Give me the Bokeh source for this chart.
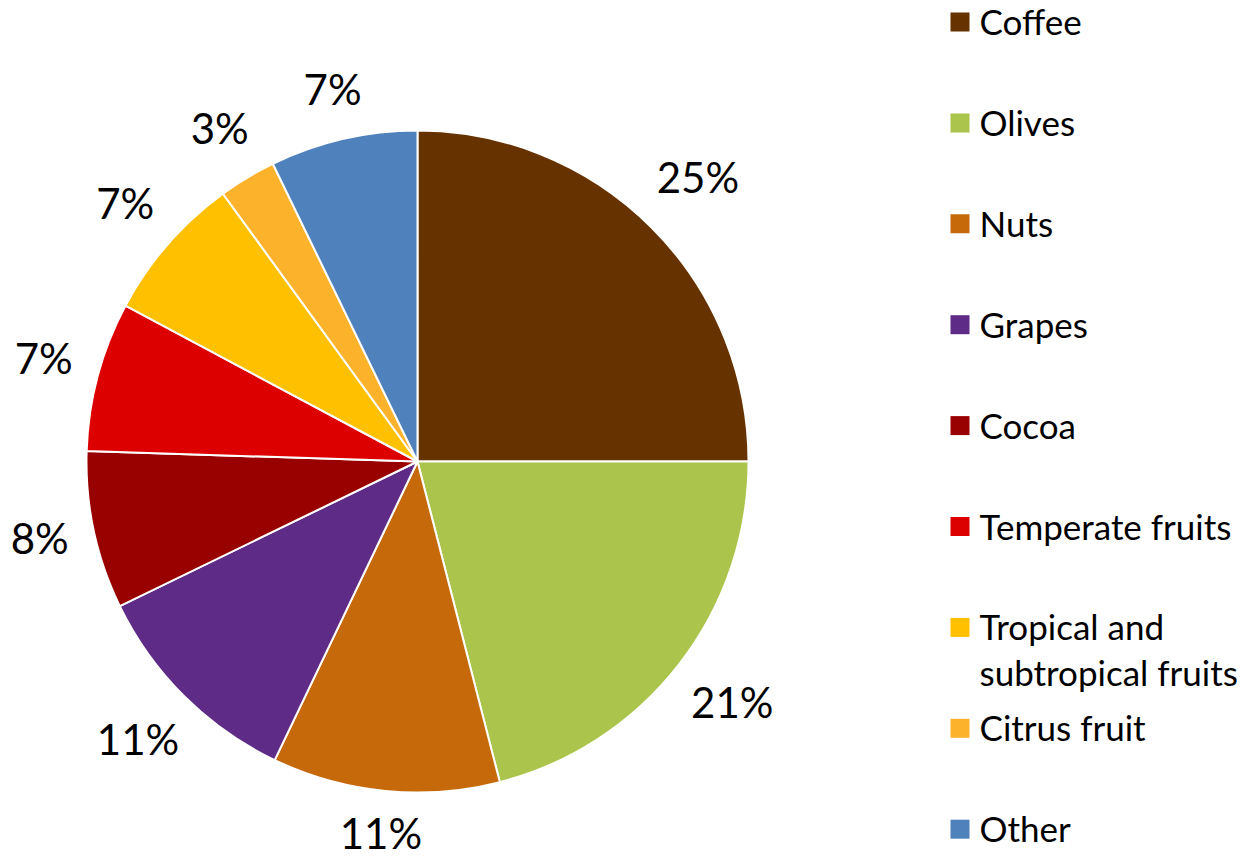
import math
import textwrap
from bokeh.plotting import figure
from bokeh.models import Range1d, ColumnDataSource
from bokeh.core.properties import value
from bokeh.embed import file_html
from bokeh.resources import INLINE

# ---- data ----
categories = ["Coffee", "Olives", "Nuts", "Grapes", "Cocoa", "Temperate fruits",
              "Tropical and subtropical fruits", "Citrus fruit", "Other"]
shares = [25.0, 21.0, 11.1, 10.7, 7.7, 7.3, 7.2, 2.8, 7.2]
colors = ["#663300", "#ABC44B", "#C5690A", "#5E2B86", "#990000", "#DD0000",
          "#FFC000", "#FDB22B", "#4F81BD"]

# ---- layout (page pixel coords; data y = H - page_y) ----
W, H = 1244, 857
FONT = "Lato"
cx, cy_page, R = 417, 461, 331
cy = H - cy_page

p = figure(width=W, height=H, output_backend="svg", toolbar_location=None,
           x_range=Range1d(0, W), y_range=Range1d(0, H),
           min_border=0, min_border_left=0, min_border_right=0,
           min_border_top=0, min_border_bottom=0)
p.axis.visible = False
p.grid.visible = False
p.outline_line_color = None
p.background_fill_color = "white"
p.border_fill_color = "white"

total = sum(shares)
starts, ends, mids = [], [], []
c = 0.0
for s in shares:
    f0 = c / total
    c += s
    f1 = c / total
    starts.append(math.pi / 2 - 2 * math.pi * f0)
    ends.append(math.pi / 2 - 2 * math.pi * f1)
    mids.append(2 * math.pi * (f0 + f1) / 2)  # clockwise from top

src = ColumnDataSource(dict(start=starts, end=ends, color=colors))
p.wedge(x=cx, y=cy, radius=R, start_angle="start", end_angle="end",
        direction="clock", fill_color="color", line_color="white",
        line_width=2, source=src)

# ---- percentage labels ----
lab_txt = [f"{round(s / total * 100)}%" for s in shares]
lx, ly = [], []
gap, half_h, lift = 26, 16, 4
for t, th in zip(lab_txt, mids):
    sx, sy = math.sin(th), math.cos(th)
    half_w = 13.3 * len(t)
    d = R + gap + abs(sx) * half_w + abs(sy) * half_h
    lx.append(cx + d * sx)
    ly.append(cy + d * sy + lift)
p.text(x=lx, y=ly, text=lab_txt, text_align="center", text_baseline="middle",
       text_font=value(FONT), text_font_size="42px", text_color="black")

# ---- legend ----
leg_x_sq, leg_x_txt = 959.5, 979
leg_y0, leg_dy, line_dy = 21.5, 100.9, 46
sq_x, sq_y, tx, ty, tt = [], [], [], [], []
for i, name in enumerate(categories):
    yc = leg_y0 + i * leg_dy
    sq_x.append(leg_x_sq)
    sq_y.append(H - yc)
    for k, line in enumerate(textwrap.wrap(name, 18)):
        tx.append(leg_x_txt)
        ty.append(H - (yc + k * line_dy) + 1)
        tt.append(line)
p.scatter(x=sq_x, y=sq_y, marker="square", size=19, fill_color=colors,
          line_color=None)
p.text(x=tx, y=ty, text=tt, text_align="left", text_baseline="middle",
       text_font=value(FONT), text_font_size="35px", text_color="black")

open("out.html", "w").write(file_html(p, INLINE))
